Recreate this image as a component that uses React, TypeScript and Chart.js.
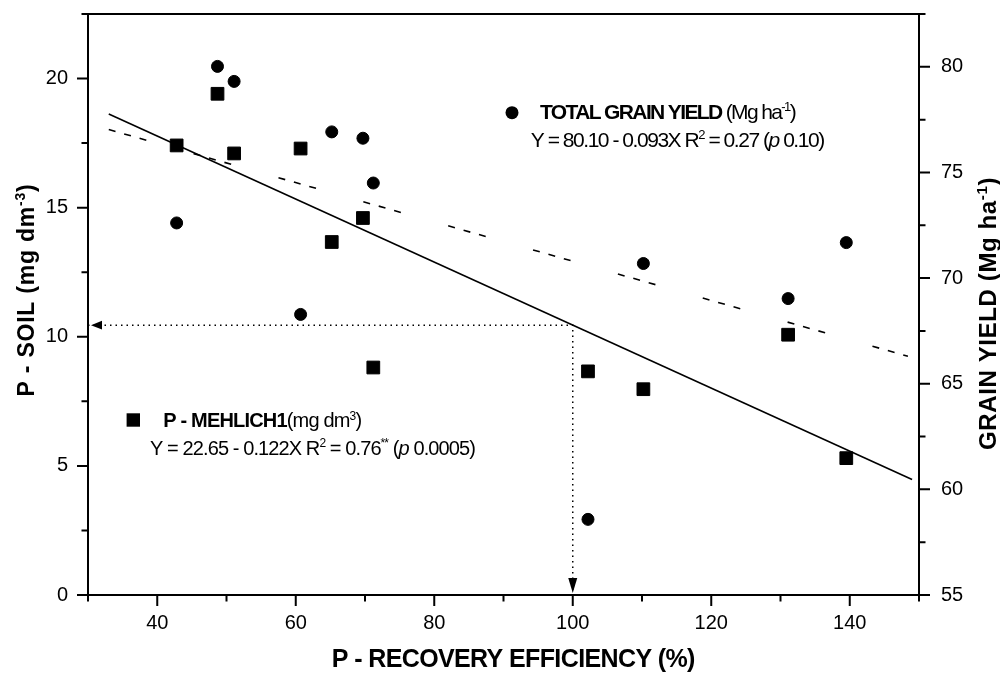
import React, { useEffect, useRef } from "react";
import { Chart, registerables } from "chart.js";

Chart.register(...registerables);

// ---- data ----
const recoveryEfficiency = [42.8, 48.7, 51.1, 60.7, 65.2, 69.7, 71.2, 102.2, 110.2, 131.1, 139.5];
const pMehlich = [17.41, 19.41, 17.1, 17.29, 13.67, 14.6, 8.81, 8.66, 7.97, 10.08, 5.3];
const grainYield = [72.61, 80.02, 79.31, 68.28, 76.92, 76.62, 74.5, 58.58, 70.69, 69.03, 71.68];

const fitMehlichX = [33, 149];
const fitMehlich = [18.63, 4.47];
const fitYieldX = [33, 148.4];
const fitYield = [77.03, 66.3];

const guideX = [30, 100, 100];
const guideY = [10.45, 10.45, 0];

const xTicks = [40, 60, 80, 100, 120, 140];
const xMinor = [30, 50, 70, 90, 110, 130, 150];
const leftTicks = [0, 5, 10, 15, 20];
const leftMinor = [2.5, 7.5, 12.5, 17.5, 22.5];
const rightTicks = [55, 60, 65, 70, 75, 80];
const rightMinor = [57.5, 62.5, 67.5, 72.5, 77.5, 82.5];

const FONT = '"Liberation Sans", Arial, Helvetica, sans-serif';

type Seg = { t: string; b?: boolean; i?: boolean; sup?: boolean };

function drawRich(
  ctx: CanvasRenderingContext2D,
  segs: Seg[],
  x: number,
  y: number,
  size: number,
  target: number,
  align: "left" | "center",
  rotate = false
) {
  const fontFor = (s: Seg) =>
    `${s.i ? "italic " : ""}${s.b ? "bold " : ""}${s.sup ? Math.round(size * 0.62) : size}px ${FONT}`;
  ctx.save();
  ctx.fillStyle = "#000";
  ctx.textBaseline = "alphabetic";
  ctx.textAlign = "left";
  const anyCtx = ctx as any;
  const hasLS = "letterSpacing" in ctx;
  if (hasLS) anyCtx.letterSpacing = "0px";
  let natural = 0;
  let n = 0;
  const widths = segs.map((s) => {
    ctx.font = fontFor(s);
    const w = ctx.measureText(s.t).width;
    natural += w;
    n += s.t.length;
    return w;
  });
  let sp = 0;
  let sx = 1;
  if (target) {
    if (hasLS) sp = (target - natural) / n;
    else sx = target / natural;
  }
  const total = hasLS ? natural + sp * n : natural;
  ctx.translate(x, y);
  if (rotate) ctx.rotate(-Math.PI / 2);
  ctx.scale(sx, 1);
  let cx = align === "center" ? -total / 2 : 0;
  segs.forEach((s, k) => {
    ctx.font = fontFor(s);
    if (hasLS) anyCtx.letterSpacing = `${sp}px`;
    ctx.fillText(s.t, cx, s.sup ? -size * 0.38 : 0);
    cx += widths[k] + sp * s.t.length;
  });
  ctx.restore();
}

const framePlugin = {
  id: "framePlugin",
  beforeDatasetsDraw(chart: any) {
    const { ctx, chartArea: a, scales } = chart;
    const sx = scales.x;
    const sy = scales.y;
    const sy2 = scales.y2;
    ctx.save();
    ctx.strokeStyle = "#000";
    ctx.lineWidth = 2;
    ctx.lineCap = "square";
    ctx.beginPath();
    ctx.rect(a.left, a.top, a.right - a.left, a.bottom - a.top);
    ctx.stroke();
    ctx.lineCap = "butt";
    ctx.beginPath();
    const seg = (x1: number, y1: number, x2: number, y2: number) => {
      ctx.moveTo(x1, y1);
      ctx.lineTo(x2, y2);
    };
    const MAJ = 11;
    const MIN = 6.5;
    xTicks.forEach((v) => {
      const p = sx.getPixelForValue(v);
      seg(p, a.bottom, p, a.bottom + MAJ);
    });
    xMinor.forEach((v) => {
      const p = sx.getPixelForValue(v);
      seg(p, a.bottom, p, a.bottom + MIN);
    });
    leftTicks.forEach((v) => {
      const p = sy.getPixelForValue(v);
      seg(a.left, p, a.left - MAJ, p);
    });
    leftMinor.forEach((v) => {
      const p = sy.getPixelForValue(v);
      seg(a.left, p, a.left - MIN, p);
    });
    rightTicks.forEach((v) => {
      const p = sy2.getPixelForValue(v);
      seg(a.right, p, a.right + MAJ, p);
    });
    rightMinor.forEach((v) => {
      const p = sy2.getPixelForValue(v);
      seg(a.right, p, a.right + MIN, p);
    });
    ctx.stroke();
    ctx.restore();
  },
  afterDatasetsDraw(chart: any) {
    const { ctx, scales } = chart;
    const sx = scales.x;
    const sy = scales.y;
    ctx.save();
    ctx.fillStyle = "#000";
    // left arrow head at start of the guide line
    const lx = sx.getPixelForValue(guideX[0]);
    const ly = sy.getPixelForValue(guideY[0]);
    ctx.beginPath();
    ctx.moveTo(lx + 3, ly);
    ctx.lineTo(lx + 14, ly - 4.3);
    ctx.lineTo(lx + 14, ly + 4.3);
    ctx.closePath();
    ctx.fill();
    // down arrow head at end of the guide line
    const dx = sx.getPixelForValue(guideX[2]);
    const dy = sy.getPixelForValue(guideY[2]);
    ctx.beginPath();
    ctx.moveTo(dx, dy - 2);
    ctx.lineTo(dx - 4.5, dy - 17);
    ctx.lineTo(dx + 4.5, dy - 17);
    ctx.closePath();
    ctx.fill();
    ctx.restore();
  },
  afterDraw(chart: any) {
    const { ctx } = chart;
    // legend markers
    ctx.save();
    ctx.fillStyle = "#000";
    ctx.beginPath();
    ctx.arc(512, 112.7, 6.5, 0, Math.PI * 2);
    ctx.fill();
    ctx.fillRect(126.6, 413.3, 13.4, 13.4);
    ctx.restore();

    drawRich(
      ctx,
      [
        { t: "TOTAL GRAIN YIELD ", b: true },
        { t: "(Mg ha" },
        { t: "-1", sup: true },
        { t: ")" },
      ],
      540,
      119,
      21,
      255,
      "left"
    );
    drawRich(
      ctx,
      [
        { t: "Y = 80.10 - 0.093X R" },
        { t: "2", sup: true },
        { t: " = 0.27 (" },
        { t: "p", i: true },
        { t: " 0.10)" },
      ],
      530.7,
      146.7,
      21,
      293,
      "left"
    );
    drawRich(
      ctx,
      [
        { t: "P - MEHLICH1", b: true },
        { t: "(mg dm" },
        { t: "3", sup: true },
        { t: ")" },
      ],
      163.3,
      427.3,
      20,
      198,
      "left"
    );
    drawRich(
      ctx,
      [
        { t: "Y = 22.65 - 0.122X R" },
        { t: "2", sup: true },
        { t: " = 0.76" },
        { t: "**", sup: true },
        { t: " (" },
        { t: "p", i: true },
        { t: " 0.0005)" },
      ],
      150,
      455,
      20,
      325,
      "left"
    );
    // axis titles
    drawRich(ctx, [{ t: "P - RECOVERY EFFICIENCY (%)", b: true }], 513.3, 666.5, 25, 363, "center");
    drawRich(
      ctx,
      [
        { t: "P - SOIL (mg dm", b: true },
        { t: "-3", b: true, sup: true },
        { t: ")", b: true },
      ],
      34,
      290,
      23,
      213,
      "center",
      true
    );
    drawRich(
      ctx,
      [
        { t: "GRAIN YIELD (Mg ha", b: true },
        { t: "-1", b: true, sup: true },
        { t: ")", b: true },
      ],
      996,
      313.5,
      24,
      273,
      "center",
      true
    );
  },
};

const zeroPad = (s: any) => {
  s.paddingTop = 0;
  s.paddingBottom = 0;
  s.paddingLeft = 0;
  s.paddingRight = 0;
};

export default function App() {
  const canvasRef = useRef<HTMLCanvasElement | null>(null);

  useEffect(() => {
    if (!canvasRef.current) return;
    const tickFont = { family: FONT, size: 20 };
    const noGrid = { display: false, drawTicks: false, tickLength: 0 };
    const chart = new Chart(canvasRef.current, {
      type: "scatter",
      data: {
        datasets: [
          {
            label: "P - MEHLICH1",
            data: recoveryEfficiency.map((x, i) => ({ x, y: pMehlich[i] })),
            yAxisID: "y",
            pointStyle: "rect",
            pointRadius: 9,
            backgroundColor: "#000",
            borderColor: "#000",
            borderWidth: 1,
            order: 0,
          },
          {
            label: "TOTAL GRAIN YIELD",
            data: recoveryEfficiency.map((x, i) => ({ x, y: grainYield[i] })),
            yAxisID: "y2",
            pointStyle: "circle",
            pointRadius: 6,
            backgroundColor: "#000",
            borderColor: "#000",
            borderWidth: 1,
            order: 0,
          },
          {
            type: "line",
            label: "P fit",
            data: fitMehlichX.map((x, i) => ({ x, y: fitMehlich[i] })),
            yAxisID: "y",
            borderColor: "#000",
            borderWidth: 1.6,
            pointRadius: 0,
            fill: false,
            order: 1,
          },
          {
            type: "line",
            label: "Yield fit",
            data: fitYieldX.map((x, i) => ({ x, y: fitYield[i] })),
            yAxisID: "y2",
            borderColor: "#000",
            borderWidth: 1.6,
            borderDash: [7, 9, 7, 9, 7, 49.2],
            pointRadius: 0,
            fill: false,
            order: 1,
          },
          {
            type: "line",
            label: "guide",
            data: guideX.map((x, i) => ({ x, y: guideY[i] })),
            yAxisID: "y",
            borderColor: "#000",
            borderWidth: 1.5,
            borderDash: [1.5, 4],
            pointRadius: 0,
            fill: false,
            order: 1,
          },
        ] as any,
      },
      options: {
        animation: false,
        responsive: false,
        events: [],
        layout: { padding: { top: 14, left: 0, right: 0, bottom: 0 } },
        plugins: {
          legend: { display: false },
          tooltip: { enabled: false },
          title: { display: false },
        },
        scales: {
          x: {
            type: "linear",
            position: "bottom",
            min: 30,
            max: 150,
            afterBuildTicks: (s: any) => {
              s.ticks = xTicks.map((v) => ({ value: v }));
            },
            afterFit: (s: any) => {
              s.height = 80;
              zeroPad(s);
            },
            grid: noGrid,
            border: { display: false },
            ticks: { font: tickFont, color: "#000", padding: 16, maxRotation: 0, autoSkip: false },
          },
          y: {
            type: "linear",
            position: "left",
            min: 0,
            max: 22.5,
            afterBuildTicks: (s: any) => {
              s.ticks = leftTicks.map((v) => ({ value: v }));
            },
            afterFit: (s: any) => {
              s.width = 88;
              zeroPad(s);
            },
            grid: noGrid,
            border: { display: false },
            ticks: { font: tickFont, color: "#000", padding: 20, autoSkip: false },
          },
          y2: {
            type: "linear",
            position: "right",
            min: 55,
            max: 82.5,
            afterBuildTicks: (s: any) => {
              s.ticks = rightTicks.map((v) => ({ value: v }));
            },
            afterFit: (s: any) => {
              s.width = 81;
              zeroPad(s);
            },
            grid: noGrid,
            border: { display: false },
            ticks: { font: tickFont, color: "#000", padding: 22, autoSkip: false },
          },
        },
      } as any,
      plugins: [framePlugin],
    });
    return () => chart.destroy();
  }, []);

  return (
    <div style={{ position: "fixed", left: 0, top: 0, width: 1000, height: 675, background: "#fff" }}>
      <canvas ref={canvasRef} width={1000} height={675} style={{ display: "block" }} />
    </div>
  );
}
